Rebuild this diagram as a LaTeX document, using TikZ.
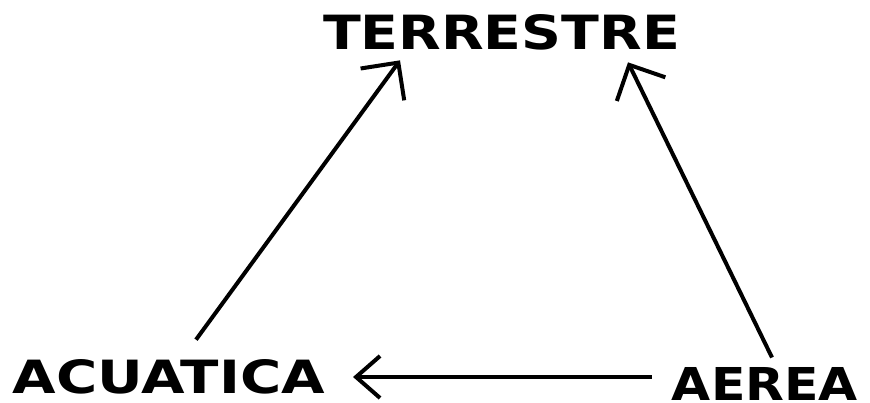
\documentclass[tikz,border=0pt]{standalone}
\usepackage{fontspec}
\setmainfont{DejaVu Sans}
\usetikzlibrary{arrows.meta}
\tikzset{
  word/.style={inner sep=0pt, outer sep=0pt, font=\bfseries},
  link/.style={line width=4pt, -{Straight Barb[length=27pt, width=54pt, line width=4pt]}},
  shortlink/.style={line width=4pt, -{Straight Barb[length=24pt, width=42pt, line width=4pt]}}
}
\begin{document}
\begin{tikzpicture}[x=1pt, y=-1pt]
  \useasboundingbox (0,0) rectangle (870,403);
  \node[word] (ter) at (501.5,32.5) {\resizebox{357pt}{35pt}{TERRESTRE}};
  \node[word] (acu) at (169,377) {\resizebox{312pt}{34pt}{ACUATICA}};
  \node[word] (aer) at (765,384) {\resizebox{186pt}{33pt}{AEREA}};
  \draw[link] ([xshift=27pt,yshift=20pt]acu.north) -- ([xshift=-101.5pt,yshift=-10pt]ter.south);
  \draw[link] ([xshift=7pt,yshift=10pt]aer.north) -- ([xshift=126.5pt,yshift=-12pt]ter.south);
  \draw[shortlink] ([xshift=-20pt,yshift=7pt]aer.west) -- ([xshift=28pt,yshift=0pt]acu.east);
\end{tikzpicture}
\end{document}
